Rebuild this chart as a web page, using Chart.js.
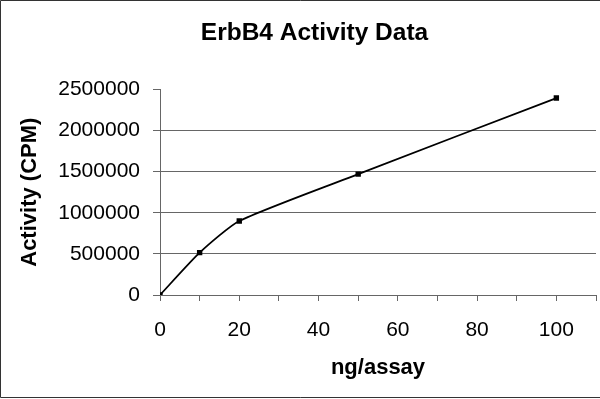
<!DOCTYPE html>
<html>
<head>
<meta charset="utf-8">
<script src="https://cdn.jsdelivr.net/npm/chart.js@4/dist/chart.umd.min.js"></script>
<style>
    html, body { margin: 0; padding: 0; background: #fff; }
    #wrap { width: 600px; height: 399px; }
</style>
</head>
<body>
<div id="wrap"><canvas id="myChart" width="600" height="399"></canvas></div>
<script>
// ng per assay and measured activity
var doses = [0, 10, 20, 50, 100];
var activity = [0, 515000, 900000, 1470000, 2395000];
var y_ticks = [0, 500000, 1000000, 1500000, 2000000, 2500000];
var x_labels = [0, 20, 40, 60, 80, 100];

var points = doses.map((d, i) => ({ x: d, y: activity[i] }));

// frame round the picture (no right side in the original)
const framePlugin = {
    id: 'frame',
    afterDraw(chart) {
        const c = chart.ctx;
        c.save();
        c.strokeStyle = '#333';
        c.lineWidth = 1;
        c.beginPath();
        c.moveTo(600, 0.5);
        c.lineTo(0.5, 0.5);
        c.lineTo(0.5, 397.5);
        c.lineTo(600, 397.5);
        c.stroke();
        c.restore();
    }
};

const ctx = document.getElementById('myChart').getContext('2d');
const myChart = new Chart(ctx, {
    type: 'line',
    data: {
        datasets: [{
            label: 'activity',
            data: points,
            borderColor: '#000',
            backgroundColor: '#000',
            borderWidth: 1.8,
            tension: 0.2,
            pointStyle: 'rect',
            pointRadius: 3.8,
            pointBorderWidth: 0,
            fill: false
        }]
    },
    options: {
        responsive: false,
        animation: false,
        events: [],
        layout: { padding: { left: 30, right: 1, top: 0, bottom: 0 } },
        plugins: {
            legend: { display: false },
            tooltip: { enabled: false },
            title: {
                display: true,
                text: 'ErbB4 Activity Data',
                color: '#000',
                font: { family: 'Liberation Sans', size: 24.5, weight: 'bold', lineHeight: 1.2 },
                padding: { top: 19, bottom: 41 }
            }
        },
        scales: {
            x: {
                type: 'linear',
                min: 0,
                max: 110,
                afterBuildTicks: axis => {
                    axis.ticks = [];
                    for (let v = 0; v <= 110; v += 10) axis.ticks.push({ value: v });
                },
                afterFit: axis => {
                    axis.height = 104;
                    axis.paddingLeft = 0;
                    axis.paddingRight = 0;
                },
                border: { color: '#666', width: 1 },
                grid: {
                    drawOnChartArea: false,
                    tickLength: 6,
                    tickColor: '#666'
                },
                ticks: {
                    autoSkip: false,
                    maxRotation: 0,
                    padding: 17,
                    color: '#000',
                    font: { family: 'Liberation Sans', size: 21 },
                    callback: v => x_labels.includes(v) ? String(v) : ''
                },
                title: {
                    display: true,
                    text: 'ng/assay',
                    color: '#000',
                    font: { family: 'Liberation Sans', size: 22, weight: 'bold', lineHeight: 1.2 },
                    padding: { top: 18, bottom: 18 }
                }
            },
            y: {
                min: 0,
                max: 2500000,
                afterBuildTicks: axis => {
                    axis.ticks = y_ticks.map(v => ({ value: v }));
                },
                afterFit: axis => { axis.width = 130; },
                border: { color: '#666', width: 1 },
                grid: {
                    color: c => (c.tick && c.tick.value === 2500000) ? 'rgba(0,0,0,0)' : '#666',
                    tickLength: 7,
                    tickColor: '#666'
                },
                ticks: {
                    padding: 13,
                    color: '#000',
                    font: { family: 'Liberation Sans', size: 21 },
                    callback: v => String(v)
                },
                title: {
                    display: true,
                    text: 'Activity (CPM)',
                    color: '#000',
                    font: { family: 'Liberation Sans', size: 22, weight: 'bold', lineHeight: 1.2 },
                    padding: { top: -13, bottom: 0 }
                }
            }
        }
    },
    plugins: [framePlugin]
});
</script>
</body>
</html>
